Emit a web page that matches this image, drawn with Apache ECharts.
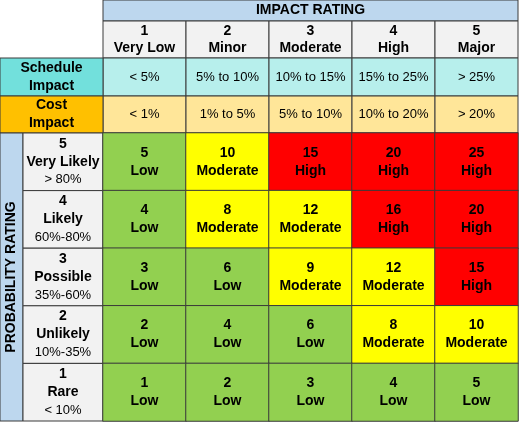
<!DOCTYPE html>
<html><head><meta charset="utf-8">
<script src="https://cdn.jsdelivr.net/npm/echarts@6/dist/echarts.min.js"></script>
<style>html,body{margin:0;padding:0;background:#fff}#c{width:520px;height:423px}</style>
</head><body><div id="c"></div>
<script>
var impactNums = ['1','2','3','4','5'];
var impactNames = ['Very Low','Minor','Moderate','High','Major'];
var scheduleImpact = ['< 5%','5% to 10%','10% to 15%','15% to 25%','> 25%'];
var costImpact = ['< 1%','1% to 5%','5% to 10%','10% to 20%','> 20%'];
var probNums = ['5','4','3','2','1'];
var probNames = ['Very Likely','Likely','Possible','Unlikely','Rare'];
var probRanges = ['> 80%','60%-80%','35%-60%','10%-35%','< 10%'];
// rows top (prob 5) to bottom (prob 1); level per cell
var levels = [
 ['Low','Moderate','High','High','High'],
 ['Low','Moderate','Moderate','High','High'],
 ['Low','Low','Moderate','Moderate','High'],
 ['Low','Low','Low','Moderate','Moderate'],
 ['Low','Low','Low','Low','Low']
];
var levelColors = {Low:'#92d050', Moderate:'#ffff00', High:'#ff0000'};

var L=103, T=133, W=415, H=288, colW=W/5, rowH=H/5;
var data=[];
for (var r=0;r<5;r++) for (var c=0;c<5;c++){
  var p=+probNums[r], i=+impactNums[c], lv=levels[r][c];
  data.push({value:[c,4-r,p*i], level:lv, itemStyle:{color:levelColors[lv]}});
}
var g=[], border='#3a3a3a', font='"Liberation Sans", Arial, sans-serif';
function cell(x,y,w,h,fill,txt,bold,size,lh){
  g.push({type:'rect',shape:{x:x,y:y,width:w,height:h},style:{fill:fill,stroke:border,lineWidth:1}});
  if(txt!=null) g.push({type:'text',x:x+w/2,y:y+h/2,style:{text:txt,fill:'#000',font:(bold?'bold ':'')+size+'px '+font,align:'center',verticalAlign:'middle',lineHeight:lh||size+3}});
}
cell(L,0,W,21,'#bdd7ee','IMPACT RATING',true,14);
for (var c=0;c<5;c++){
  cell(L+c*colW,21,colW,37,'#f2f2f2',impactNums[c]+'\n'+impactNames[c],true,14,17);
  cell(L+c*colW,58,colW,38,'#b7efec',scheduleImpact[c],false,13);
  cell(L+c*colW,96,colW,37,'#ffe699',costImpact[c],false,13);
}
cell(0,58,L,38,'#72e0dc','Schedule\nImpact',true,14,18);
cell(0,96,L,37,'#ffc000','Cost\nImpact',true,14,18);
g.push({type:'rect',shape:{x:0,y:T,width:23,height:H},style:{fill:'#bdd7ee',stroke:border,lineWidth:1}});
g.push({type:'text',x:11.5,y:T+H/2,rotation:Math.PI/2,style:{text:'PROBABILITY RATING',fill:'#000',font:'bold 14px '+font,align:'center',verticalAlign:'middle'}});
for (var r=0;r<5;r++){
  var y=T+r*rowH;
  g.push({type:'rect',shape:{x:23,y:y,width:L-23,height:rowH},style:{fill:'#f2f2f2',stroke:border,lineWidth:1}});
  g.push({type:'text',x:63,y:y+rowH/2,style:{text:'{b|'+probNums[r]+'}\n{b|'+probNames[r]+'}\n{n|'+probRanges[r]+'}',align:'center',verticalAlign:'middle',
    rich:{b:{font:'bold 14px '+font,lineHeight:18,fill:'#000',align:'center'},n:{font:'13px '+font,lineHeight:18,fill:'#000',align:'center'}}}});
}
var chart=echarts.init(document.getElementById('c'),null,{renderer:'canvas'});
chart.setOption({
  animation:false,
  grid:{left:L,top:T,width:W,height:H},
  xAxis:{type:'category',data:impactNums,show:false},
  yAxis:{type:'category',data:['1','2','3','4','5'],show:false},
  series:[{type:'heatmap',data:data,
    itemStyle:{borderColor:border,borderWidth:1},
    label:{show:true,color:'#000',fontWeight:'bold',fontSize:14,fontFamily:font,lineHeight:18,
      formatter:function(p){return p.value[2]+'\n'+p.data.level;}}}],
  graphic:g
});
</script></body></html>
